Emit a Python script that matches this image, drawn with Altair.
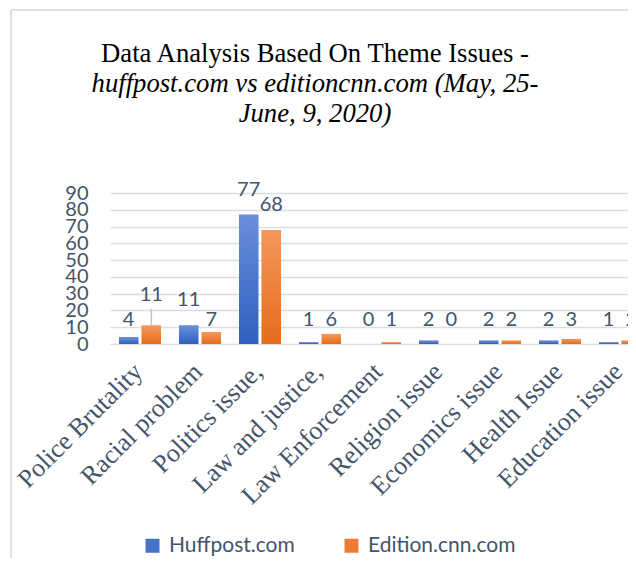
import altair as alt
import pandas as pd

categories = ["Police Brutality", "Racial problem", "Politics issue,", "Law and justice,",
              "Law Enforcement", "Religion issue", "Economics issue", "Health Issue", "Education issue"]
huffpost = [4, 11, 77, 1, 0, 2, 2, 2, 1]
cnn = [11, 7, 68, 6, 1, 0, 2, 3, 2]
series = ["Huffpost.com", "Edition.cnn.com"]
y_ticks = [0, 10, 20, 30, 40, 50, 60, 70, 80, 90]
title_line = "Data Analysis Based On Theme Issues -"
subtitle_lines = ["huffpost.com vs editioncnn.com (May, 25-", "June, 9, 2020)"]
leader_category = categories[0]

rows = []
for c, h, e in zip(categories, huffpost, cnn):
    rows.append({"theme": c, "series": series[0], "count": h})
    rows.append({"theme": c, "series": series[1], "count": e})
df = pd.DataFrame(rows)

TEXT = "#44546A"
W, H = 518, 151
PAD_L, PAD_T = 102, 185

x_axis = alt.Axis(title=None, labelAngle=-45, labelFont="Liberation Serif", labelFontSize=26,
                  labelColor=TEXT, ticks=False, domain=False, labelPadding=14, labelLimit=0,
                  labelAlign="right", labelBaseline="top", labelOverlap=False, labelOffset=-11)
y_axis = alt.Axis(title=None, values=y_ticks, grid=True, gridColor="#dadee4", gridWidth=1.5,
                  domain=False, ticks=False, labelFont="Lato", labelFontSize=20,
                  labelColor=TEXT, labelPadding=22, labelOverlap=False)
x_scale = alt.Scale(domain=categories, rangeMax=540, paddingInner=0.3, paddingOuter=0.15)
y_scale = alt.Scale(domain=[0, 90], nice=False)

x_enc = alt.X("theme:N", sort=categories, scale=x_scale, axis=x_axis)
xo_enc = alt.XOffset("series:N", sort=series, scale=alt.Scale(domain=series, paddingInner=0.15))


def yq(field):
    return alt.Y(field, type="quantitative", scale=y_scale, axis=y_axis)


bars = alt.Chart(df).mark_bar().encode(
    x=x_enc, xOffset=xo_enc, y=yq("count"),
    color=alt.Color("series:N", sort=series,
                    scale=alt.Scale(domain=series, range=["#4472C4", "#ED7D31"]),
                    legend=alt.Legend(title=None, orient="none", legendX=32, legendY=342,
                                      direction="horizontal", symbolType="square", symbolSize=196,
                                      symbolStrokeWidth=0, symbolOpacity=1, labelFont="Lato",
                                      labelFontSize=21, labelColor=TEXT, columnPadding=46,
                                      labelOffset=6, padding=0)))

blue_grad = alt.Gradient(gradient="linear", x1=0, x2=0, y1=0, y2=1,
                         stops=[alt.GradientStop(color="#6a8fd9", offset=0),
                                alt.GradientStop(color="#2f5fc0", offset=1)])
orange_grad = alt.Gradient(gradient="linear", x1=0, x2=0, y1=0, y2=1,
                           stops=[alt.GradientStop(color="#f5975c", offset=0),
                                  alt.GradientStop(color="#e56c1b", offset=1)])

bars_blue = alt.Chart(df).transform_filter(alt.datum.series == series[0]).mark_bar(
    color=blue_grad).encode(x=x_enc, xOffset=xo_enc, y=yq("count"))
bars_orange = alt.Chart(df).transform_filter(alt.datum.series == series[1]).mark_bar(
    color=orange_grad).encode(x=x_enc, xOffset=xo_enc, y=yq("count"))

labels = alt.Chart(df).transform_calculate(
    ly="datum.count > 8 ? datum.count + 15 + (datum.count < 15 && datum.series == 'Edition.cnn.com' ? 3 : 0) : 14.5"
).mark_text(font="Lato", fontSize=20, color=TEXT, baseline="middle").encode(
    x=x_enc, xOffset=xo_enc, y=yq("ly"), text="count:Q")

leader = alt.Chart(df).transform_filter(
    (alt.datum.theme == leader_category) & (alt.datum.series == series[1])).transform_calculate(
    lt="datum.count + 10").mark_rule(color="#c0c4ca", strokeWidth=1.5).encode(
    x=x_enc, xOffset=xo_enc, y=yq("count"), y2="lt:Q")

title1 = alt.Chart(pd.DataFrame({"t": [title_line]})).mark_text(
    font="Liberation Serif", fontSize=26.7, color="black", align="center", baseline="alphabetic").encode(
    x=alt.value(205), y=alt.value(-131), text="t:N")
subtitle = alt.Chart(pd.DataFrame({"t": ["\n".join(subtitle_lines)]})).mark_text(
    font="Liberation Serif", fontSize=26.7, fontStyle="italic", color="black", align="center",
    baseline="alphabetic", lineBreak="\n", lineHeight=30).encode(
    x=alt.value(205), y=alt.value(-101), text="t:N")

border_left = alt.Chart(pd.DataFrame({"a": [0]})).mark_rule(color="#dce0e6", strokeWidth=2).encode(
    x=alt.value(-99), y=alt.value(-183), y2=alt.value(380))
border_top = alt.Chart(pd.DataFrame({"a": [0]})).mark_rule(color="#dce0e6", strokeWidth=2).encode(
    x=alt.value(-99), x2=alt.value(W + 20), y=alt.value(-183))

chart = alt.layer(border_left, border_top, title1, subtitle, bars, bars_blue, bars_orange,
                  leader, labels).properties(
    width=W, height=H,
    autosize=alt.AutoSizeParams(type="none"),
    padding={"left": PAD_L, "top": PAD_T, "right": 0, "bottom": 550 - PAD_T - H}
).configure_view(stroke=None)

chart.save("out.html", embed_options={"renderer": "svg", "actions": False})
